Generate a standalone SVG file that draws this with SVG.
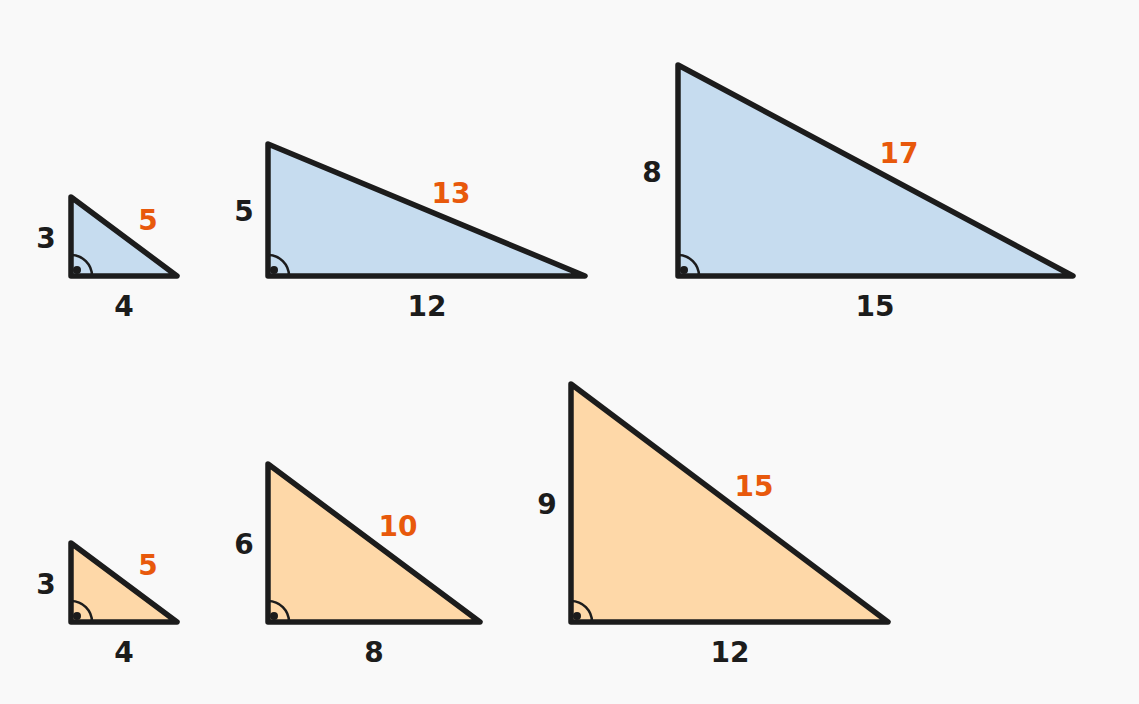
<svg xmlns="http://www.w3.org/2000/svg" width="1139" height="704" viewBox="0 0 1139 704">
<style>
.tri{stroke:#1c1c1c;stroke-width:5.5;stroke-linejoin:round;stroke-linecap:round}
.blue{fill:#c6dcef}
.orange{fill:#fed8a8}
.arc{fill:none;stroke:#1c1c1c;stroke-width:2.5}
.dot{fill:#1c1c1c}
text{font-family:"DejaVu Sans",sans-serif;font-weight:bold;font-size:28px;text-anchor:middle}
.leg{fill:#1c1c1c}
.hyp{fill:#e8590c}
</style>
<rect width="1139" height="704" fill="#f9f9f9"/>
<g id="t1">
<polygon class="tri blue" points="71,276 71,197 177,276"/>
<path class="arc" d="M92,276 A21,21 0 0 0 71,255"/>
<circle class="dot" cx="77" cy="270" r="4"/>
<text class="leg" x="46" y="248">3</text>
<text class="leg" x="124" y="316">4</text>
<text class="hyp" x="148" y="230">5</text>
</g>
<g id="t2">
<polygon class="tri blue" points="268,276 268,144 585,276"/>
<path class="arc" d="M289,276 A21,21 0 0 0 268,255"/>
<circle class="dot" cx="274" cy="270" r="4"/>
<text class="leg" x="244" y="221">5</text>
<text class="leg" x="427" y="316">12</text>
<text class="hyp" x="451" y="203">13</text>
</g>
<g id="t3">
<polygon class="tri blue" points="678,276 678,65 1073,276"/>
<path class="arc" d="M699,276 A21,21 0 0 0 678,255"/>
<circle class="dot" cx="684" cy="270" r="4"/>
<text class="leg" x="652" y="182">8</text>
<text class="leg" x="875" y="316">15</text>
<text class="hyp" x="899" y="163">17</text>
</g>
<g id="t4">
<polygon class="tri orange" points="71,622 71,543 177,622"/>
<path class="arc" d="M92,622 A21,21 0 0 0 71,601"/>
<circle class="dot" cx="77" cy="616" r="4"/>
<text class="leg" x="46" y="594">3</text>
<text class="leg" x="124" y="662">4</text>
<text class="hyp" x="148" y="575">5</text>
</g>
<g id="t5">
<polygon class="tri orange" points="268,622 268,464 480,622"/>
<path class="arc" d="M289,622 A21,21 0 0 0 268,601"/>
<circle class="dot" cx="274" cy="616" r="4"/>
<text class="leg" x="244" y="554">6</text>
<text class="leg" x="374" y="662">8</text>
<text class="hyp" x="398" y="536">10</text>
</g>
<g id="t6">
<polygon class="tri orange" points="571,622 571,384 888,622"/>
<path class="arc" d="M592,622 A21,21 0 0 0 571,601"/>
<circle class="dot" cx="577" cy="616" r="4"/>
<text class="leg" x="547" y="514">9</text>
<text class="leg" x="730" y="662">12</text>
<text class="hyp" x="754" y="496">15</text>
</g>
<g id="connectors"/>
</svg>
